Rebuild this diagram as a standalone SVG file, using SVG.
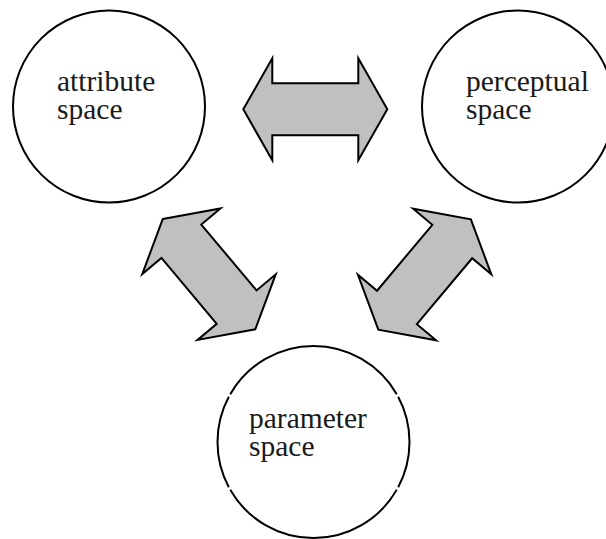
<svg xmlns="http://www.w3.org/2000/svg" xmlns:xlink="http://www.w3.org/1999/xlink" width="606" height="539" viewBox="0 0 606 539">
  <style>
    .ring { fill: #ffffff; stroke: #000000; stroke-width: 2; }
    .ring-open { fill: none; stroke: #000000; stroke-width: 2; }
    .label { font-family: "Liberation Serif", "DejaVu Serif", serif; font-size: 29.5px; fill: #1a1a1a; }
    .dbl { fill: #c0c0c0; stroke: #000000; stroke-width: 2; stroke-linejoin: miter; }
  </style>
  <defs>
    <!-- double-headed block arrow, centred on the origin, pointing along x -->
    <polygon id="double-arrow" class="dbl"
      points="-72,0 -43,-51 -43,-26 43,-26 43,-51 72,0 43,51 43,26 -43,26 -43,51"/>
  </defs>

  <rect x="0" y="0" width="606" height="539" fill="#ffffff"/>

  <g id="connectors">
    <use id="link-attribute-perceptual" xlink:href="#double-arrow" transform="translate(315.3,109.3)"/>
    <use id="link-attribute-parameter" xlink:href="#double-arrow" transform="translate(209,274.2) rotate(50)"/>
    <use id="link-perceptual-parameter" xlink:href="#double-arrow" transform="translate(424.6,274.5) rotate(130)"/>
  </g>

  <g id="attribute-space">
    <circle class="ring" cx="109" cy="106.5" r="96"/>
    <text class="label" x="57" y="90.5">attribute<tspan x="57" dy="28">space</tspan></text>
  </g>

  <g id="perceptual-space">
    <circle class="ring" cx="518" cy="106.5" r="96"/>
    <text class="label" x="466" y="90.5">perceptual<tspan x="466" dy="28">space</tspan></text>
  </g>

  <g id="parameter-space">
    <!-- outline drawn as four arcs with small breaks at the sides -->
    <path class="ring-open" d="M396.72,489.86 A96,96 0 0 1 230.28,489.86
                               M228.82,487.22 A96,96 0 0 1 228.82,396.78
                               M230.28,394.14 A96,96 0 0 1 396.72,394.14
                               M398.18,396.78 A96,96 0 0 1 398.18,487.22"/>
    <text class="label" x="249" y="428">parameter<tspan x="249" dy="28">space</tspan></text>
  </g>
</svg>
